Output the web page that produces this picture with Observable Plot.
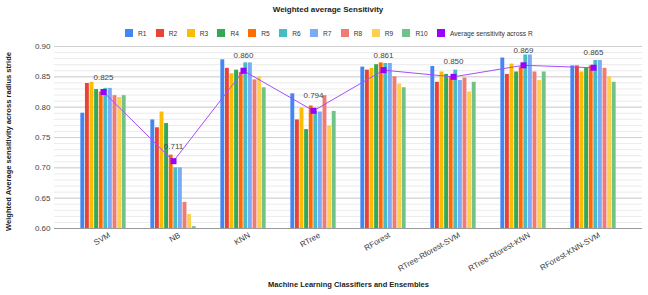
<!DOCTYPE html>
<html><head><meta charset="utf-8">
<script src="https://cdn.jsdelivr.net/npm/d3@7"></script>
<script src="https://cdn.jsdelivr.net/npm/@observablehq/plot@0.6"></script>
<style>
html,body{margin:0;padding:0;background:#fff;}
#wrap{position:relative;width:648px;height:295px;overflow:hidden;font-family:Arial,"Liberation Sans",sans-serif;}
#title{position:absolute;top:5px;left:0;width:656px;text-align:center;font-weight:bold;font-size:8px;color:#222;}
#legend{position:absolute;top:29px;left:125px;}
#chart{position:absolute;top:0;left:0;}
.lg-swatches{font-family:Arial,"Liberation Sans",sans-serif !important;font-size:6.6px !important;color:#333 !important;margin:0 !important;}
.lg-swatches-wrap{min-height:0 !important;flex-wrap:nowrap !important;}
.lg-swatch{margin-right:9.4px !important;}
.lg-swatch > svg{margin-right:5px !important;}
</style>
</head><body>
<div id="wrap">
  <div id="chart"></div>
  <div id="title">Weighted average Sensitivity</div>
  <div id="legend"></div>
</div>
<script>
const classifiers = ["SVM","NB","KNN","RTree","RForest","RTree-Rforest-SVM","RTree-Rforest-KNN","RForest-KNN-SVM"];
const runs = ["R1","R2","R3","R4","R5","R6","R7","R8","R9","R10"];
const R1  = [0.790,0.779,0.878,0.822,0.866,0.867,0.881,0.868];
const R2  = [0.839,0.766,0.864,0.779,0.861,0.841,0.854,0.868];
const R3  = [0.841,0.792,0.855,0.798,0.864,0.858,0.871,0.858];
const R4  = [0.829,0.773,0.861,0.763,0.870,0.854,0.858,0.864];
const R5  = [0.825,0.721,0.857,0.802,0.873,0.850,0.866,0.868];
const R6  = [0.831,0.700,0.873,0.793,0.872,0.861,0.886,0.877];
const R7  = [0.831,0.700,0.873,0.792,0.872,0.844,0.886,0.877];
const R8  = [0.819,0.643,0.845,0.819,0.850,0.848,0.858,0.864];
const R9  = [0.816,0.623,0.850,0.769,0.838,0.825,0.844,0.850];
const R10 = [0.819,0.603,0.832,0.793,0.832,0.841,0.858,0.841];
const avgSensitivity = [0.825,0.711,0.860,0.794,0.861,0.850,0.869,0.865];
const avgLabel = "Average sensitivity across R";
const yTicks = [0.60,0.65,0.70,0.75,0.80,0.85,0.90];
const yMinorTicks = d3.range(60,91).map(d => d/100);
const baseline = 0.60;

const colors = ["#4285F4","#EA4335","#FBBC04","#34A853","#FF6D01","#46BDC6","#7BAAF7","#F07B72","#FCD04F","#71C287"];
const avgColor = "#9900FF";
const series = [R1,R2,R3,R4,R5,R6,R7,R8,R9,R10];

const data = [];
runs.forEach((r,k) => classifiers.forEach((c,i) => data.push({classifier:c, run:r, k, value:series[k][i]})));
const avgData = classifiers.map((c,i) => ({classifier:c, value:avgSensitivity[i]}));

const slot = 4.6;
const font = 'Arial, "Liberation Sans", sans-serif';
const barMarks = runs.map((r,k) => Plot.barY(data.filter(d => d.k === k), {
  x:"classifier", y1: () => baseline, y2:"value", fill: colors[k],
  insetLeft: k*slot + 0.35, insetRight: (9-k)*slot + 0.35
}));

const chart = Plot.plot({
  width: 648, height: 295,
  marginLeft: 54, marginRight: 6, marginTop: 46, marginBottom: 67,
  style: {fontFamily: font, background: "#fff"},
  x: {domain: classifiers, paddingInner: 0.3456, paddingOuter: 0.355},
  y: {domain: [0.6, 0.9]},
  marks: [
    Plot.ruleY(yMinorTicks, {stroke:"#ebebeb", strokeWidth:1}),
    Plot.ruleY(yTicks, {stroke:"#cfcfcf", strokeWidth:1}),
    ...barMarks,
    Plot.ruleY([baseline], {stroke:"#9a9a9a", strokeWidth:1}),
    Plot.line(avgData, {x:"classifier", y:"value", stroke:"#A64DFF", strokeWidth:1}),
    Plot.dot(avgData, {x:"classifier", y:"value", symbol:"square", r:3.4, fill:avgColor, stroke:"none"}),
    Plot.text(avgData, {x:"classifier", y:"value", text: d => d.value.toFixed(3), dy:-15, fontSize:8, fill:"#444"}),
    Plot.axisY({ticks: yTicks, tickFormat: ".2f", tickSize: 0, tickPadding: 4, fontSize: 8, fill:"#444", label: null}),
    Plot.axisX({tickRotate: -30, tickSize: 0, tickPadding: 6, dx: 6, fontSize: 8, fill:"#444", label: null}),
    Plot.text(["Machine Learning Classifiers and Ensembles"], {frameAnchor:"bottom", dy:58, fontSize:7.5, fontWeight:"bold", fill:"#222"}),
    Plot.text(["Weighted Average sensitivity across radius stride"], {frameAnchor:"left", textAnchor:"middle", dx:-46, dy:4, rotate:-90, fontSize:7.6, fontWeight:"bold", fill:"#222"})
  ]
});
document.getElementById("chart").appendChild(chart);

const legend = Plot.legend({
  color: {domain: [...runs, avgLabel], range: [...colors, avgColor]},
  legend: "swatches", swatchSize: 8, className: "lg"
});
document.getElementById("legend").appendChild(legend);
</script>
</body></html>
